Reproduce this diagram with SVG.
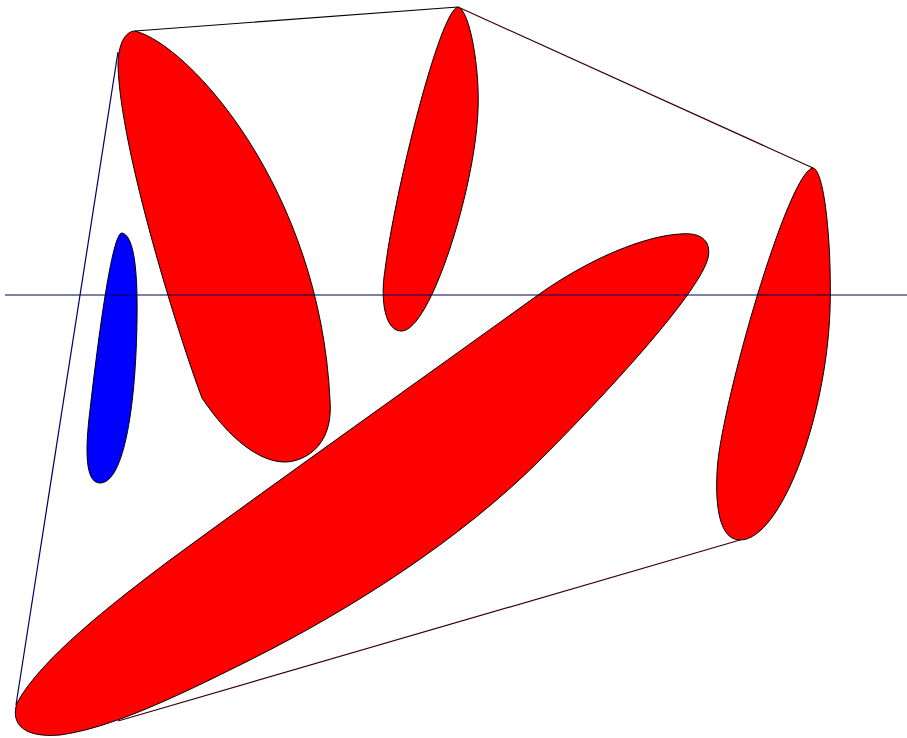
<svg xmlns="http://www.w3.org/2000/svg" width="907" height="738" viewBox="0 0 907 738">
<style>
.r{fill:#ff0000;stroke:#000;stroke-width:1}
.b{fill:#0000ff;stroke:#000;stroke-width:1}
.l{fill:none;stroke-width:1.2}
</style>
<rect width="907" height="738" fill="#fff"/>
<g id="shapes">
<path id="blob1" class="r" d="M135,31 C190,45 320,190 330,400 C334,450 300,462 285,462 C260,462 230,440 202,398 C180,340 120,150 118,65 C118,45 125,31 135,31 Z"/>
<path id="blob2" class="r" d="M458,7 C470,10 480,70 478,110 C475,190 430,330 402,331 C385,332 380,300 385,270 C395,190 440,10 458,7 Z"/>
<path id="blob3" class="r" d="M813,168 C825,170 832,250 830,310 C826,420 780,540 740,540 C715,540 715,490 718,460 C728,380 790,170 813,168 Z"/>
<path id="blob4" class="r" d="M680,234 C700,232 712,240 708,258 C700,290 620,380 540,460 C460,540 350,610 250,660 C170,700 110,728 60,735 C25,738 10,725 17,703 C40,660 110,605 170,560 C290,472 420,380 538,295 C590,258 645,236 680,234 Z"/>
<path id="blob5" class="b" d="M122,233 C132,235 138,260 137,320 C136,400 125,483 100,483 C85,483 85,450 90,410 C98,340 112,232 122,233 Z"/>
</g>
<g id="connectors">
<line class="l" x1="135" y1="31" x2="458" y2="7" stroke="#000"/>
<line class="l" x1="458" y1="7" x2="813" y2="168" stroke="#3a0000"/>
<line class="l" x1="740" y1="540" x2="118" y2="721" stroke="#3a0000"/>
<line class="l" x1="118" y1="52" x2="16" y2="705" stroke="#000060"/>
<line class="l" x1="5" y1="295" x2="907" y2="295" stroke="#000050"/>
</g>
</svg>
